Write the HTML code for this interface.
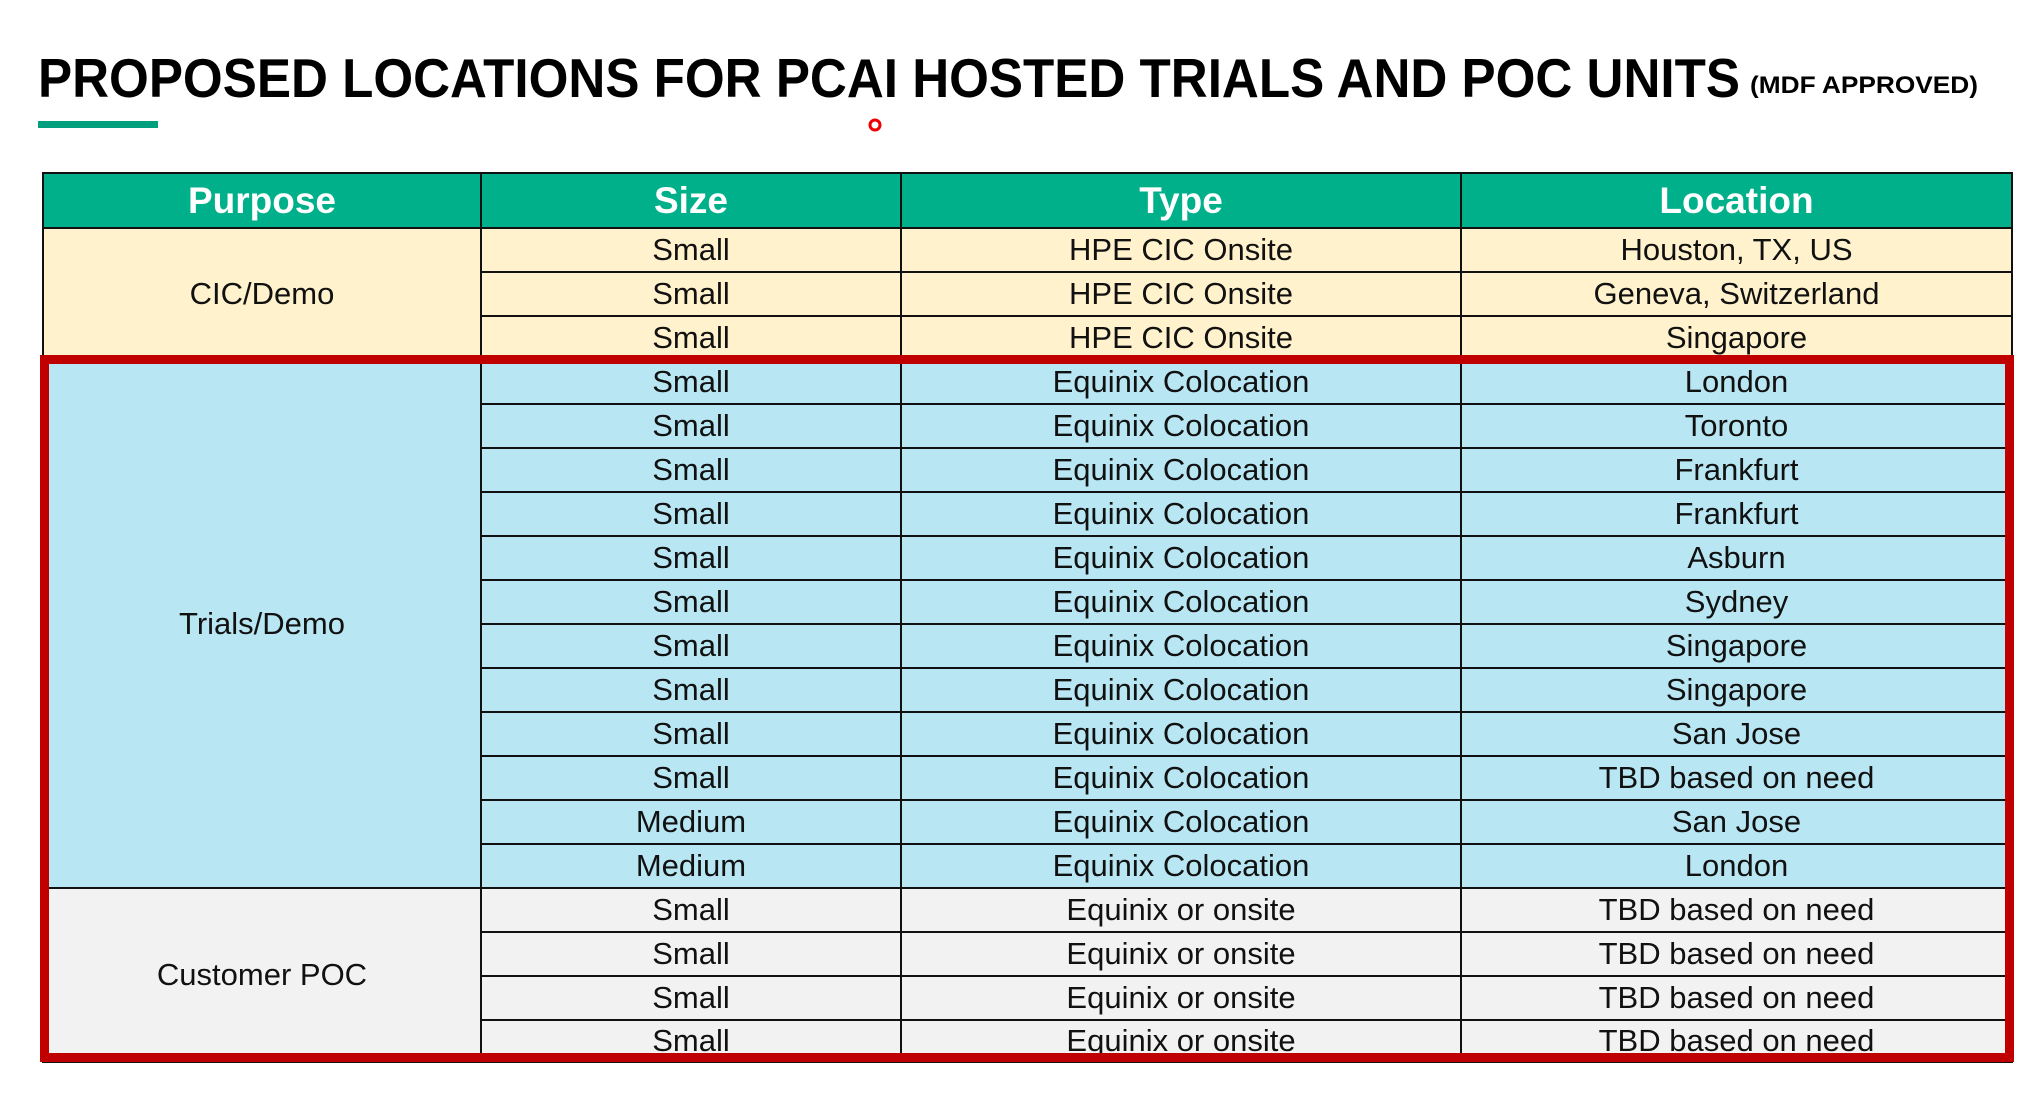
<!DOCTYPE html>
<html><head><meta charset="utf-8"><style>
body{margin:0;width:2044px;height:1097px;background:#fff;position:relative;overflow:hidden;font-family:"Liberation Sans Narrow","Liberation Sans",sans-serif;}
table{position:absolute;left:42px;top:172px;border-collapse:collapse;table-layout:fixed;}
td,th{border:2px solid #111;text-align:center;padding:0;font-size:31px;color:#111;height:42px;line-height:40px;}
th{background:#00b08a;color:#fff;font-size:37px;height:53px;font-family:"Liberation Sans Narrow","Liberation Sans",sans-serif;font-weight:bold;}
.c td{background:#fff2cc}.b td{background:#b8e6f3}.g td{background:#f2f2f2}
tr.last td{height:34px;line-height:40px;vertical-align:top;}
#red{position:absolute;left:40px;top:355px;width:1974px;height:707px;border:9px solid #c00000;box-sizing:border-box;}
</style></head><body>
<svg width="2044" height="140" style="position:absolute;left:0;top:0">
<text x="38" y="97" font-family="Liberation Sans" font-weight="bold" font-size="55" textLength="1702" lengthAdjust="spacingAndGlyphs" fill="#000">PROPOSED LOCATIONS FOR PCAI HOSTED TRIALS AND POC UNITS</text>
<text x="1750" y="93" font-family="Liberation Sans" font-weight="bold" font-size="24" textLength="228" lengthAdjust="spacingAndGlyphs" fill="#000">(MDF APPROVED)</text>
<rect x="38" y="121" width="120" height="7" fill="#00a07e"/>
<circle cx="875" cy="125" r="5" fill="none" stroke="#e00" stroke-width="3"/>
</svg>
<table>
<colgroup><col style="width:438px"><col style="width:420px"><col style="width:560px"><col style="width:551px"></colgroup>
<tr><th>Purpose</th><th>Size</th><th>Type</th><th>Location</th></tr>
<tr class="c"><td rowspan="3">CIC/Demo</td><td>Small</td><td>HPE CIC Onsite</td><td>Houston, TX, US</td></tr>
<tr class="c"><td>Small</td><td>HPE CIC Onsite</td><td>Geneva, Switzerland</td></tr>
<tr class="c"><td>Small</td><td>HPE CIC Onsite</td><td>Singapore</td></tr>
<tr class="b"><td rowspan="12">Trials/Demo</td><td>Small</td><td>Equinix Colocation</td><td>London</td></tr>
<tr class="b"><td>Small</td><td>Equinix Colocation</td><td>Toronto</td></tr>
<tr class="b"><td>Small</td><td>Equinix Colocation</td><td>Frankfurt</td></tr>
<tr class="b"><td>Small</td><td>Equinix Colocation</td><td>Frankfurt</td></tr>
<tr class="b"><td>Small</td><td>Equinix Colocation</td><td>Asburn</td></tr>
<tr class="b"><td>Small</td><td>Equinix Colocation</td><td>Sydney</td></tr>
<tr class="b"><td>Small</td><td>Equinix Colocation</td><td>Singapore</td></tr>
<tr class="b"><td>Small</td><td>Equinix Colocation</td><td>Singapore</td></tr>
<tr class="b"><td>Small</td><td>Equinix Colocation</td><td>San Jose</td></tr>
<tr class="b"><td>Small</td><td>Equinix Colocation</td><td>TBD based on need</td></tr>
<tr class="b"><td>Medium</td><td>Equinix Colocation</td><td>San Jose</td></tr>
<tr class="b"><td>Medium</td><td>Equinix Colocation</td><td>London</td></tr>
<tr class="g"><td rowspan="4">Customer POC</td><td>Small</td><td>Equinix or onsite</td><td>TBD based on need</td></tr>
<tr class="g"><td>Small</td><td>Equinix or onsite</td><td>TBD based on need</td></tr>
<tr class="g"><td>Small</td><td>Equinix or onsite</td><td>TBD based on need</td></tr>
<tr class="g last"><td>Small</td><td>Equinix or onsite</td><td>TBD based on need</td></tr>
</table>
<div id="red"></div>
</body></html>
